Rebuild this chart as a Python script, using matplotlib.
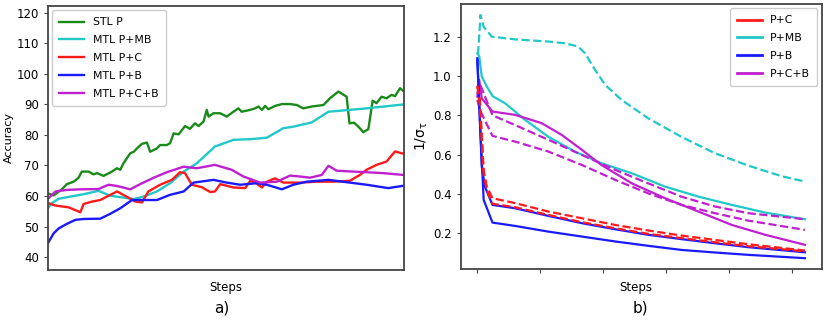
import matplotlib
matplotlib.use("Agg")
import matplotlib.pyplot as plt
from matplotlib.lines import Line2D

# ---------------- panel a) accuracy ----------------
stl_x = [0, 1.6, 3.9, 5.3, 7.2, 8.6, 9.5, 11.4, 12.8, 13.8, 15.6, 17.5, 19.4, 20.3, 21.2, 23.1,
         24.1, 25.0, 26.4, 27.8, 28.7, 30.6, 31.5, 33.4, 34.3, 35.3, 36.7, 38.5, 39.9, 41.3,
         42.3, 43.7, 44.6, 45.1, 46.5, 48.4, 50.2, 52.1, 53.5, 54.4, 56.8, 58.2, 59.1, 60.1,
         61.0, 61.9, 63.8, 65.7, 68.0, 69.9, 71.7, 74.1, 77.4, 79.2, 81.6, 83.9, 84.7, 86.0,
         87.2, 88.6, 90.0, 91.2, 92.3, 93.7, 95.1, 96.5, 97.5, 98.9, 100]
stl_p = [60.9, 60.2, 62.2, 63.9, 64.7, 66.0, 68.0, 68.0, 67.1, 67.5, 66.6, 67.7, 69.1, 68.6,
         70.7, 74.0, 74.5, 75.6, 77.1, 77.5, 74.5, 75.6, 76.7, 76.7, 77.3, 80.5, 80.2, 82.9,
         82.0, 83.8, 82.9, 84.4, 88.2, 86.0, 87.1, 87.1, 86.0, 87.6, 88.7, 87.6, 88.2, 88.7,
         89.3, 88.2, 89.5, 88.4, 89.5, 90.1, 90.1, 89.8, 88.7, 89.3, 89.8, 92.0, 94.2, 92.5,
         83.8, 84.0, 82.7, 80.9, 81.9, 91.2, 90.4, 92.5, 92.0, 93.1, 92.7, 95.3, 94.2]

mb_x = [0, 1.1, 3.0, 5.3, 10.0, 14.2, 17.5, 21.2, 24.1, 26.8, 30.6, 34.3, 38.1, 41.8, 46.9,
        52.1, 56.8, 61.5, 66.1, 68.9, 74.1, 78.8, 84.8, 89.5, 100]
mtl_pmb = [56.0, 57.7, 59.1, 59.6, 60.6, 61.7, 60.1, 59.5, 59.0, 59.8, 61.5, 64.2, 68.0, 70.7,
           76.2, 78.4, 78.6, 79.1, 82.2, 82.7, 84.1, 87.6, 88.2, 88.7, 90.0]

pc_x = [0, 2.1, 5.8, 9.1, 10.0, 12.4, 14.7, 16.5, 19.4, 22.1, 24.5, 26.4, 28.2, 31.5, 34.8,
        37.1, 38.5, 40.4, 43.2, 45.6, 46.9, 48.4, 52.1, 55.4, 56.8, 58.2, 60.1, 61.5, 63.8,
        66.1, 70.8, 75.5, 80.2, 84.8, 87.6, 89.5, 92.3, 95.1, 97.5, 100]
mtl_pc = [57.7, 56.9, 56.3, 54.7, 57.4, 58.2, 58.7, 59.8, 61.5, 59.8, 58.2, 57.9, 61.5, 63.7,
          65.3, 67.8, 67.5, 63.7, 62.9, 61.3, 61.5, 63.9, 62.8, 62.6, 65.0, 64.4, 62.8, 64.7,
          65.8, 64.4, 64.4, 64.7, 64.7, 65.0, 66.9, 68.6, 70.2, 71.3, 74.6, 73.8]

pb_x = [0, 1.6, 3.0, 5.3, 7.7, 10.0, 14.7, 17.5, 20.3, 23.6, 26.8, 30.6, 34.3, 38.1, 40.9,
        46.5, 50.2, 54.0, 58.6, 61.5, 65.7, 68.9, 72.7, 78.8, 84.8, 89.5, 95.6, 100]
mtl_pb = [44.6, 47.8, 49.4, 50.9, 52.2, 52.5, 52.6, 54.2, 56.0, 58.7, 58.7, 58.7, 60.4, 61.5,
          64.4, 65.3, 64.4, 63.7, 64.2, 63.7, 62.2, 63.7, 64.7, 65.3, 64.4, 63.7, 62.6, 63.4]

pcb_x = [0, 2.1, 5.3, 9.1, 14.2, 17.0, 19.4, 23.1, 25.9, 29.7, 33.4, 38.1, 41.8, 46.9, 51.6,
         54.9, 59.6, 64.3, 68.0, 70.8, 73.6, 76.9, 78.8, 81.1, 85.8, 89.5, 94.2, 100]
mtl_pcb = [59.1, 61.5, 62.0, 62.2, 62.3, 63.7, 63.3, 62.2, 63.9, 66.0, 67.8, 69.6, 69.1, 70.2,
           68.6, 66.4, 64.4, 64.7, 66.7, 66.4, 66.0, 66.9, 69.9, 68.3, 68.0, 67.8, 67.5, 66.9]

acc_yticks = [40, 50, 60, 70, 80, 90, 100, 110, 120]

# ---------------- panel b) 1/sigma ----------------
cmb_dash_x = [0, 0.05, 0.1, 0.23, 0.6, 1.13, 1.39, 1.6, 1.71, 1.87, 2.03, 2.29, 2.71, 3.24,
              3.77, 4.3, 4.83, 5.2]
pmb_mb = [1.05, 1.31, 1.25, 1.2, 1.186, 1.175, 1.166, 1.15, 1.115, 1.03, 0.954, 0.878, 0.785,
          0.69, 0.607, 0.544, 0.49, 0.463]

pmb_p_x = [0, 0.03, 0.07, 0.15, 0.24, 0.44, 0.76, 1.13, 1.55, 1.97, 2.45, 2.98, 3.51, 4.04,
           4.57, 5.2]
pmb_p = [1.115, 1.1, 0.997, 0.946, 0.898, 0.861, 0.776, 0.69, 0.615, 0.556, 0.505, 0.437,
         0.386, 0.344, 0.305, 0.271]

pcb_p_x = [0, 0.03, 0.07, 0.24, 0.6, 1.02, 1.34, 1.66, 1.97, 2.45, 2.98, 3.51, 4.04, 4.57, 5.2]
pcb_p = [0.895, 0.98, 0.886, 0.819, 0.802, 0.76, 0.7, 0.624, 0.547, 0.454, 0.378, 0.31,
         0.242, 0.192, 0.141]

pcb_c_x = [0, 0.04, 0.24, 0.6, 1.13, 1.66, 2.19, 2.71, 3.24, 3.77, 4.3, 5.2]
pcb_c = [0.91, 0.96, 0.8, 0.75, 0.675, 0.598, 0.522, 0.454, 0.386, 0.336, 0.302, 0.271]
pcb_b = [0.878, 0.827, 0.695, 0.666, 0.615, 0.547, 0.471, 0.403, 0.344, 0.302, 0.264, 0.217]

pb_lo_x = [0, 0.05, 0.1, 0.24, 0.6, 1.13, 1.66, 2.19, 2.71, 3.24, 3.77, 4.3, 5.2]
pb_lo = [1.08, 0.708, 0.37, 0.254, 0.237, 0.208, 0.183, 0.158, 0.136, 0.115, 0.102, 0.09, 0.073]

pb_hi_x = [0, 0.07, 0.12, 0.24, 0.6, 1.13, 1.66, 2.19, 2.71, 3.24, 3.77, 4.3, 5.2]
pb_hi = [1.09, 0.54, 0.437, 0.344, 0.327, 0.288, 0.251, 0.22, 0.192, 0.17, 0.149, 0.129, 0.103]

pc_c_x = [0, 0.04, 0.1, 0.15, 0.24, 0.6, 1.13, 1.66, 2.19, 2.71, 3.24, 3.77, 4.3, 5.2]
pc_c = [0.95, 0.88, 0.52, 0.437, 0.378, 0.353, 0.31, 0.276, 0.242, 0.214, 0.188, 0.166,
        0.144, 0.112]
pc_p = [0.95, 0.85, 0.50, 0.42, 0.35, 0.332, 0.293, 0.256, 0.225, 0.197, 0.175, 0.154,
        0.134, 0.108]

sig_yticks = [0.2, 0.4, 0.6, 0.8, 1.0, 1.2]
sig_xticks = [0, 1, 2, 3, 4, 5]

fig = plt.figure(figsize=(8.3, 3.22), dpi=100)
spine_col = "#444444"
fs = 8.5
lfs = 7.8

# panel a
ax1 = fig.add_axes([0.0578, 0.1615, 0.4289, 0.8199])
lw = 1.7
ax1.plot(stl_x, stl_p, color="#1a8a1a", lw=lw, label="STL P")
ax1.plot(mb_x, mtl_pmb, color="#20c8c8", lw=lw, label="MTL P+MB")
ax1.plot(pc_x, mtl_pc, color="#ff1a1a", lw=lw, label="MTL P+C")
ax1.plot(pb_x, mtl_pb, color="#1a1aff", lw=lw, label="MTL P+B")
ax1.plot(pcb_x, mtl_pcb, color="#c020d0", lw=lw, label="MTL P+C+B")
ax1.set_xlim(0, 100)
ax1.set_ylim(35.8, 122.2)
ax1.set_yticks(acc_yticks)
ax1.set_xticks([])
ax1.tick_params(axis="y", labelsize=fs, length=3, color=spine_col)
ax1.set_ylabel("Accuracy", fontsize=8, labelpad=2)
ax1.legend(loc="upper left", fontsize=lfs, handlelength=2.3, borderaxespad=0.4,
           borderpad=0.65, labelspacing=0.72, framealpha=1, edgecolor="#cccccc")
for s in ax1.spines.values():
    s.set_color(spine_col)
    s.set_linewidth(1.3)

# panel b
ax2 = fig.add_axes([0.555, 0.1646, 0.435, 0.823])
lw2 = 1.6
ax2.plot(cmb_dash_x, pmb_mb, color="#20c8c8", lw=lw2, ls="--")
ax2.plot(pmb_p_x, pmb_p, color="#20c8c8", lw=lw2)
ax2.plot(pcb_p_x, pcb_p, color="#c020d0", lw=lw2)
ax2.plot(pcb_c_x, pcb_c, color="#c020d0", lw=lw2, ls="--")
ax2.plot(pcb_c_x, pcb_b, color="#c020d0", lw=lw2, ls="--")
ax2.plot(pb_lo_x, pb_lo, color="#1a1aff", lw=lw2)
ax2.plot(pb_hi_x, pb_hi, color="#1a1aff", lw=lw2)
ax2.plot(pc_c_x, pc_c, color="#ff1a1a", lw=lw2, ls="--")
ax2.plot(pc_c_x, pc_p, color="#ff1a1a", lw=lw2, ls="--")
ax2.set_ylim(0.018, 1.366)
ax2.set_xlim(-0.265, 5.466)
ax2.set_yticks(sig_yticks)
ax2.set_yticklabels([f"{v:.1f}" for v in sig_yticks])
ax2.set_xticks(sig_xticks)
ax2.set_xticklabels([])
ax2.tick_params(axis="both", labelsize=fs, length=3, color=spine_col)
ax2.set_ylabel(r"1/$\mathregular{\sigma_\tau}$", fontsize=10, labelpad=2)
handles = [Line2D([], [], color="#ff1a1a", lw=2), Line2D([], [], color="#20c8c8", lw=2),
           Line2D([], [], color="#1a1aff", lw=2), Line2D([], [], color="#c020d0", lw=2)]
ax2.legend(handles, ["P+C", "P+MB", "P+B", "P+C+B"], loc="upper right", fontsize=lfs,
           handlelength=2.3, borderaxespad=0.4, borderpad=0.65, labelspacing=0.72,
           framealpha=1, edgecolor="#cccccc")
for s in ax2.spines.values():
    s.set_color(spine_col)
    s.set_linewidth(1.3)

fig.text(226 / 830, 1 - 287 / 322, "Steps", ha="center", va="center", fontsize=8.5)
fig.text(636 / 830, 1 - 287 / 322, "Steps", ha="center", va="center", fontsize=8.5)
fig.text(222 / 830, 1 - 308 / 322, "a)", ha="center", va="center", fontsize=11)
fig.text(640 / 830, 1 - 308 / 322, "b)", ha="center", va="center", fontsize=11)

fig.savefig("out.png", dpi=100)
